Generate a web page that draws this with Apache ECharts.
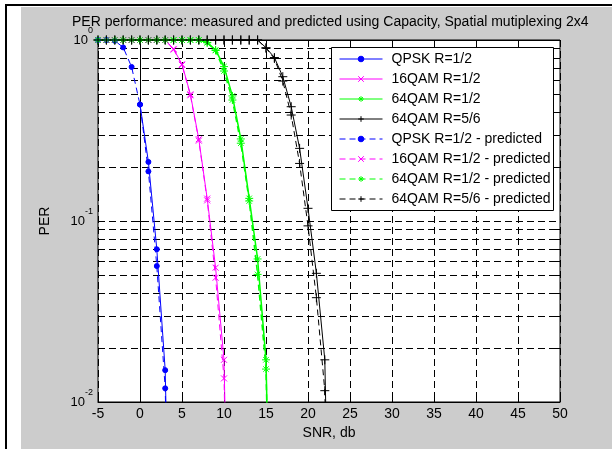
<!DOCTYPE html>
<html><head><meta charset="utf-8">
<style>html,body{margin:0;padding:0;background:#fff}#c{width:612px;height:449px}</style>
<script src="https://cdn.jsdelivr.net/npm/echarts/dist/echarts.min.js"></script>
</head><body><div id="c"></div>
<script>
// ---- data ----
const snrQpskMeas = [0, 1, 2, 3, 4];
const perQpskMeas = [0.44, 0.212, 0.0698, 0.0150, 0.0001];
const snrQpskPred = [-5, -4, -3, -2, -1, 0, 1, 2, 3, 4];
const perQpskPred = [1, 1, 0.99, 0.91, 0.71, 0.44, 0.188, 0.0564, 0.0119, 0.0001];

const snr16Meas = [-5,-4,-3,-2,-1,0,1,2,3,4,5,6,7,8,9,10,11];
const per16Meas = [1,1,1,1,1,1,1,1,1,0.892,0.734,0.501,0.283,0.133,0.0552,0.0171,0.0001];
const snr16Pred = [-5,-4,-3,-2,-1,0,1,2,3,4,5,6,7,8,9,10,11];
const per16Pred = [1,1,1,1,1,1,1,1,1,0.885,0.728,0.495,0.278,0.130,0.0486,0.0135,0.0001];

const snr64aMeas = [-5,-4,-3,-2,-1,0,1,2,3,4,5,6,7,8,9,10,11,12,13,14,15,16];
const per64aMeas = [1,1,1,1,1,1,1,1,1,1,1,1,1,0.97,0.881,0.713,0.491,0.284,0.1334,0.0617,0.0171,0.0001];
const snr64aPred = [-5,-4,-3,-2,-1,0,1,2,3,4,5,6,7,8,9,10,11,12,13,14,15,16];
const per64aPred = [1,1,1,1,1,1,1,1,1,1,1,1,1,0.965,0.875,0.674,0.466,0.269,0.129,0.0507,0.0152,0.0001];

const snr64bMeas = [-5,-4,-3,-2,-1,0,1,2,3,4,5,6,7,8,9,10,11,12,13,14,15,16,17,18,19,20,21,22,23];
const per64bMeas = [1,1,1,1,1,1,1,1,1,1,1,1,1,1,1,1,1,1,1,1,0.907,0.80,0.627,0.428,0.252,0.1175,0.0514,0.0171,0.0001];
const snr64bPred = [-5,-4,-3,-2,-1,0,1,2,3,4,5,6,7,8,9,10,11,12,13,14,15,16,17,18,19,20,21,22,23];
const per64bPred = [1,1,1,1,1,1,1,1,1,1,1,1,1,1,1,1,1,1,1,1,0.90,0.79,0.593,0.385,0.208,0.094,0.0377,0.01155,0.0001];

const seriesNames = ['QPSK R=1/2','16QAM R=1/2','64QAM R=1/2','64QAM R=5/6',
  'QPSK R=1/2 - predicted','16QAM R=1/2 - predicted','64QAM R=1/2 - predicted','64QAM R=5/6 - predicted'];
const xMin = -5, xMax = 50, xStep = 5;
const yMin = 0.01, yMax = 1;
const yMinorTicks = [0.02,0.03,0.04,0.05,0.06,0.07,0.08,0.09,0.2,0.3,0.4,0.5,0.6,0.7,0.8,0.9];
const titleText = 'PER performance: measured and predicted using Capacity, Spatial mutiplexing 2x4';

// ---- styling ----
const FONT = 'Liberation Sans, Arial, sans-serif';
const SYM_X = 'path://M0,0L10,10M10,0L0,10';
const SYM_STAR = 'path://M5,0L5,10M0,5L10,5M1.6,1.6L8.4,8.4M8.4,1.6L1.6,8.4';
const SYM_PLUS = 'path://M5,0L5,10M0,5L10,5';
const DASH = [6, 4];
const GRID_DASH = [7, 4];

function zip(xs, ys){ return xs.map((x, i) => [x, ys[i]]); }
function mk(name, xs, ys, color, symbol, size, dashed, width){
  return {
    name, type: 'line', data: zip(xs, ys),
    symbol, symbolSize: size, showSymbol: true,
    lineStyle: {color, width: width || 1, type: dashed ? DASH : 'solid'},
    itemStyle: {color: color, borderColor: color, borderWidth: 1},
    emphasis: {disabled: true}, z: 3
  };
}

const series = [
  mk(seriesNames[0], snrQpskMeas, perQpskMeas, '#0000ff', 'circle', 5, false),
  mk(seriesNames[1], snr16Meas, per16Meas, '#ff00ff', SYM_X, 6, false),
  mk(seriesNames[2], snr64aMeas, per64aMeas, '#00ff00', SYM_STAR, 8, false, 1.5),
  mk(seriesNames[3], snr64bMeas, per64bMeas, '#000000', SYM_PLUS, 9, false),
  mk(seriesNames[4], snrQpskPred, perQpskPred, '#0000ff', 'circle', 5, true),
  mk(seriesNames[5], snr16Pred, per16Pred, '#ff00ff', SYM_X, 6, true),
  mk(seriesNames[6], snr64aPred, per64aPred, '#00ff00', SYM_STAR, 8, true, 1.5),
  mk(seriesNames[7], snr64bPred, per64bPred, '#000000', SYM_PLUS, 9, true),
  {
    name: 'minorGrid', type: 'custom', silent: true, z: 1,
    data: yMinorTicks.map(v => [xMin, v]),
    encode: {x: 0, y: 1},
    renderItem: function(params, api){
      const v = api.value(1);
      const p = api.coord([xMin, v]);
      const q = api.coord([xMax, v]);
      const y = Math.round(p[1]) + 0.5;
      return {type: 'group', children: [
        {type: 'line', shape: {x1: p[0], y1: y, x2: q[0], y2: y}, style: {stroke: '#000', lineWidth: 1, lineDash: GRID_DASH}},
        {type: 'line', shape: {x1: p[0], y1: y, x2: p[0] + 5, y2: y}, style: {stroke: '#000', lineWidth: 1}},
        {type: 'line', shape: {x1: q[0] - 5, y1: y, x2: q[0], y2: y}, style: {stroke: '#000', lineWidth: 1}}
      ]};
    }
  }
];

const chart = echarts.init(document.getElementById('c'), null, {renderer: 'canvas'});
chart.setOption({
  animation: false,
  backgroundColor: '#ffffff',
  textStyle: {fontFamily: FONT},
  graphic: [
    {type: 'rect', z: -10, silent: true, shape: {x: 21, y: 7, width: 600, height: 450}, style: {fill: '#cccccc'}},
    {type: 'rect', z: -10, silent: true, shape: {x: 5, y: 4, width: 610, height: 2}, style: {fill: '#000'}},
    {type: 'rect', z: -10, silent: true, shape: {x: 5, y: 4, width: 2, height: 450}, style: {fill: '#000'}},
    {type: 'rect', z: 8, silent: true, shape: {x: 331.5, y: 47.5, width: 222, height: 163}, style: {fill: '#fff', stroke: '#000', lineWidth: 1}}
  ],
  title: {
    text: titleText, left: 72, top: 15, padding: 0,
    textStyle: {fontSize: 14, fontWeight: 'normal', color: '#000', fontFamily: FONT}
  },
  legend: {
    data: seriesNames, orient: 'vertical', left: 339, top: 52, padding: 0,
    itemWidth: 43, itemHeight: 7, itemGap: 6, z: 10, selectedMode: false,
    textStyle: {fontSize: 14, color: '#000', fontFamily: FONT, padding: [0, 0, 0, 4], lineHeight: 14},
    itemStyle: {borderWidth: 1},
    lineStyle: {width: 1}
  },
  grid: {left: 98, top: 40, width: 462, height: 362, show: true, backgroundColor: '#fff', borderColor: '#000', borderWidth: 1},
  xAxis: [
    {
      type: 'value', min: xMin, max: xMax, interval: xStep, position: 'bottom',
      name: 'SNR, db', nameLocation: 'middle', nameGap: 22,
      nameTextStyle: {fontSize: 14, color: '#000', fontFamily: FONT},
      axisLine: {lineStyle: {color: '#000'}},
      axisTick: {inside: true, length: 5, lineStyle: {color: '#000'}},
      axisLabel: {fontSize: 14, color: '#000', margin: 5, fontFamily: FONT},
      splitLine: {show: true, lineStyle: {color: '#000', type: GRID_DASH}}
    },
    {
      type: 'value', min: xMin, max: xMax, interval: xStep, position: 'top',
      axisLine: {lineStyle: {color: '#000'}},
      axisTick: {inside: true, length: 5, lineStyle: {color: '#000'}},
      axisLabel: {show: false}, splitLine: {show: false}
    }
  ],
  yAxis: [
    {
      type: 'log', logBase: 10, min: yMin, max: yMax, position: 'left',
      name: 'PER', nameLocation: 'middle', nameGap: 46,
      nameTextStyle: {fontSize: 14, color: '#000', fontFamily: FONT},
      axisLine: {lineStyle: {color: '#000'}},
      axisTick: {inside: true, length: 5, lineStyle: {color: '#000'}},
      axisLabel: {
        margin: 5, color: '#000',
        formatter: v => '{b|10}{s|' + Math.round(Math.log10(v)) + '}',
        rich: {
          b: {fontSize: 13, lineHeight: 28, color: '#000', fontFamily: FONT},
          s: {fontSize: 9, lineHeight: 9, verticalAlign: 'top', color: '#000', fontFamily: FONT}
        }
      },
      splitLine: {show: true, lineStyle: {color: '#000', type: GRID_DASH}}
    },
    {
      type: 'log', logBase: 10, min: yMin, max: yMax, position: 'right',
      axisLine: {lineStyle: {color: '#000'}},
      axisTick: {inside: true, length: 5, lineStyle: {color: '#000'}},
      axisLabel: {show: false}, splitLine: {show: false}
    }
  ],
  series
});
</script></body></html>
